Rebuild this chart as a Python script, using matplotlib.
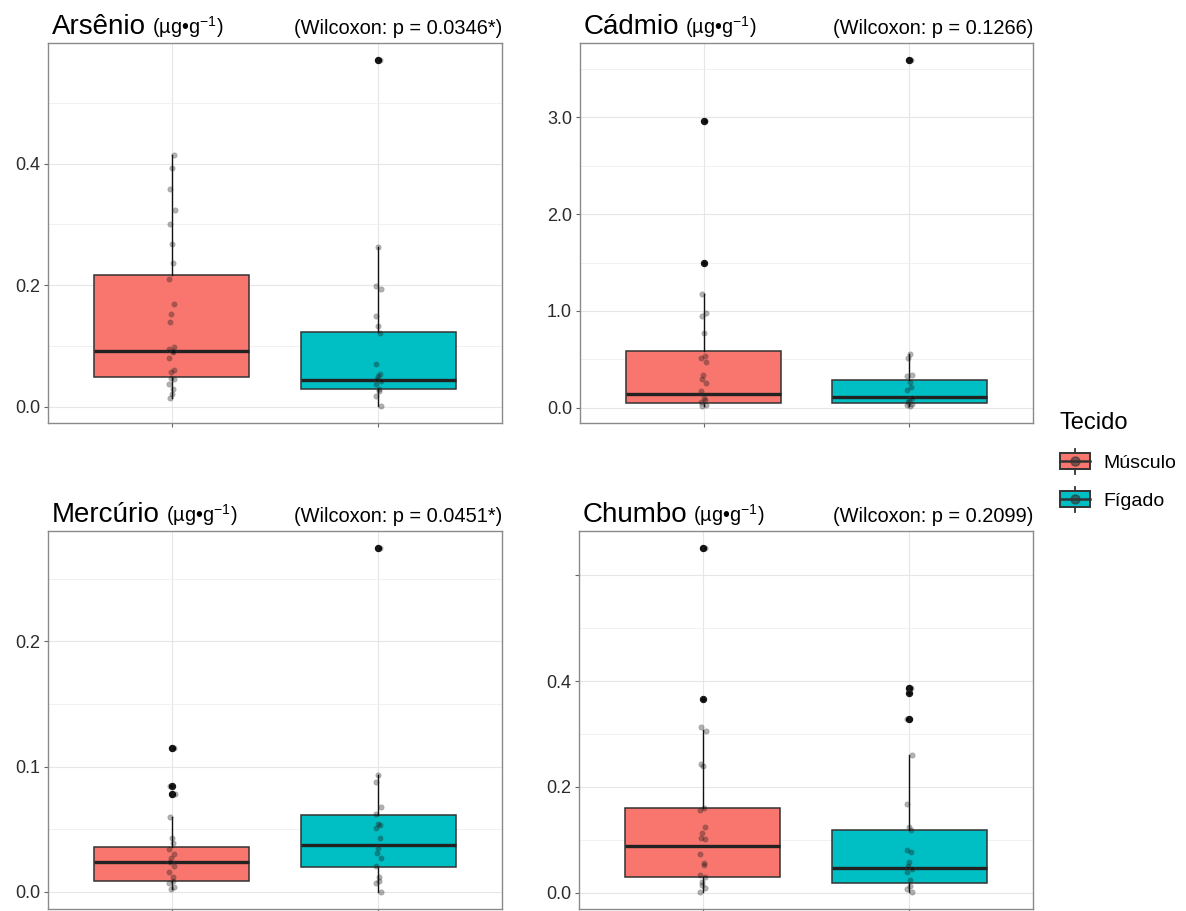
import numpy as np
import matplotlib
matplotlib.use("Agg")
import matplotlib.pyplot as plt
from matplotlib.legend_handler import HandlerBase
from matplotlib.patches import Rectangle, Patch
from matplotlib.lines import Line2D

plt.rcParams['font.family'] = ['Liberation Sans', 'DejaVu Sans']
plt.rcParams['mathtext.fontset'] = 'custom'
plt.rcParams['mathtext.rm'] = 'Liberation Sans'
plt.rcParams['mathtext.default'] = 'regular'

# data
elements = ['Arsênio', 'Cádmio', 'Mercúrio', 'Chumbo']
pvalues = ['0.0346*', '0.1266', '0.0451*', '0.2099']
tissues = ['Músculo', 'Fígado']
colors = ['#F8766D', '#00BFC4']

# box stats per element: (q1, median, q3, whislo, whishi)
musc_box = [(0.049, 0.092, 0.217, 0.015, 0.415),
            (0.05, 0.14, 0.59, 0.02, 1.17),
            (0.0088, 0.024, 0.036, 0.002, 0.060),
            (0.030, 0.089, 0.160, 0.002, 0.307)]
fig_box = [(0.029, 0.044, 0.123, 0.002, 0.263),
           (0.05, 0.11, 0.29, 0.02, 0.55),
           (0.020, 0.0374, 0.0613, 0.000, 0.093),
           (0.019, 0.047, 0.118, 0.002, 0.260)]
musc_out = [[], [2.96, 1.49], [0.1146, 0.0845, 0.078], [0.651, 0.366]]
fig_out = [[0.570], [3.59], [0.2745], [0.387, 0.377, 0.328]]

# individual observations
musc_pts = [
    [0.415, 0.393, 0.358, 0.323, 0.301, 0.268, 0.237, 0.211, 0.170, 0.153, 0.140, 0.099,
     0.095, 0.092, 0.090, 0.081, 0.061, 0.058, 0.048, 0.046, 0.037, 0.030, 0.021, 0.015],
    [2.96, 1.49, 1.17, 0.98, 0.95, 0.77, 0.53, 0.51, 0.47, 0.34, 0.30, 0.25, 0.17, 0.10,
     0.08, 0.06, 0.03, 0.02],
    [0.1146, 0.0845, 0.0845, 0.078, 0.060, 0.043, 0.039, 0.034, 0.030, 0.027, 0.024, 0.021,
     0.016, 0.012, 0.009, 0.007, 0.004, 0.002],
    [0.651, 0.366, 0.313, 0.306, 0.243, 0.240, 0.160, 0.156, 0.125, 0.113, 0.104, 0.102,
     0.073, 0.056, 0.053, 0.034, 0.030, 0.021, 0.014, 0.010, 0.002],
]
fig_pts = [
    [0.570, 0.263, 0.199, 0.194, 0.150, 0.133, 0.121, 0.071, 0.054, 0.051, 0.046, 0.042,
     0.038, 0.029, 0.026, 0.018, 0.002],
    [3.59, 0.55, 0.51, 0.34, 0.33, 0.27, 0.21, 0.18, 0.10, 0.08, 0.06, 0.04, 0.03, 0.02],
    [0.2745, 0.093, 0.088, 0.068, 0.062, 0.054, 0.053, 0.051, 0.043, 0.035, 0.031, 0.027,
     0.021, 0.012, 0.009, 0.007, 0.000],
    [0.387, 0.377, 0.328, 0.260, 0.168, 0.124, 0.118, 0.081, 0.078, 0.058, 0.050, 0.045,
     0.040, 0.025, 0.013, 0.008, 0.002],
]

yticks = [[0, 0.2, 0.4], [0, 1, 2, 3], [0, 0.1, 0.2], [0, 0.2, 0.4, 0.6]]
yticklabels = [['0.0', '0.2', '0.4'], ['0.0', '1.0', '2.0', '3.0'],
               ['0.0', '0.1', '0.2'], ['0.0', '0.2', '0.4', '']]
yminor = [[0.1, 0.3, 0.5], [0.5, 1.5, 2.5, 3.5], [0.05, 0.15, 0.25], [0.1, 0.3, 0.5]]

W, H = 1186, 911
fig = plt.figure(figsize=(W / 100, H / 100), dpi=100)
# axes boxes in pixels: left, top, right, bottom
boxes_px = [(48, 43, 502, 423), (580, 43, 1033, 423),
            (48, 531, 502, 909), (579, 531, 1033, 909)]

edge = '#333333'


def spread(n):
    # small horizontal jitter, deterministic
    return 0.013 * np.sin(np.arange(n) * 2.39 + 0.7)


axes = []
for i, (l, t, r, b) in enumerate(boxes_px):
    ax = fig.add_axes([l / W, 1 - b / H, (r - l) / W, (b - t) / H])
    axes.append(ax)
    stats = []
    for bx, out in ((musc_box[i], musc_out[i]), (fig_box[i], fig_out[i])):
        q1, med, q3, lo, hi = bx
        stats.append(dict(q1=q1, med=med, q3=q3, whislo=lo, whishi=hi, fliers=out))
    bp = ax.bxp(stats, positions=[1, 2], widths=0.75, patch_artist=True, showcaps=False,
                boxprops=dict(edgecolor=edge, linewidth=1.1),
                medianprops=dict(color='#222222', linewidth=2.4, solid_capstyle='butt'),
                whiskerprops=dict(color='#111111', linewidth=1.0),
                flierprops=dict(marker='o', markerfacecolor='#111111', markeredgecolor='#111111',
                                markersize=4.3))
    for patch, c in zip(bp['boxes'], colors):
        patch.set_facecolor(c)
    for k, pts in enumerate((musc_pts[i], fig_pts[i])):
        pts = np.array(pts)
        ax.scatter(k + 1 + spread(len(pts)), pts, s=15, color='black', alpha=0.3,
                   linewidths=0.6, edgecolors='#555555', zorder=4)

    allv = musc_pts[i] + fig_pts[i]
    lo, hi = min(allv), max(allv)
    pad = 0.05 * (hi - lo)
    ax.set_ylim(lo - pad, hi + pad)
    ax.set_xlim(0.4, 2.6)
    ax.set_xticks([1, 2])
    ax.set_xticklabels([])
    ax.set_yticks(yticks[i])
    ax.set_yticklabels(yticklabels[i])
    ax.set_yticks(yminor[i], minor=True)
    ax.tick_params(axis='both', which='major', length=2.9, width=0.8, color='#666666',
                   labelsize=13, labelcolor='#2b2b2b', pad=2.9)
    ax.tick_params(axis='y', which='minor', length=0)
    ax.grid(True, which='major', color='#e6e6e6', linewidth=0.8)
    ax.grid(True, which='minor', axis='y', color='#efefef', linewidth=0.6)
    ax.set_axisbelow(True)
    for s in ax.spines.values():
        s.set_color('#8a8a8a')
        s.set_linewidth(1.0)

    ax.text(0.008, 1.024, elements[i], transform=ax.transAxes, fontsize=20,
            ha='left', va='baseline', color='black')
    ax.text(1.0, 1.024, '(Wilcoxon: p = %s)' % pvalues[i], transform=ax.transAxes,
            fontsize=14.4, ha='right', va='baseline', color='black')

# unit text placed right after the element name
fig.canvas.draw()
renderer = fig.canvas.get_renderer()
for ax in axes:
    name = ax.texts[0]
    bb = name.get_window_extent(renderer)
    x_ax = ax.transAxes.inverted().transform((bb.x1 + 6, bb.y0))[0]
    ax.text(x_ax, 1.024, r'(µg•g$^{-1}$)', transform=ax.transAxes, fontsize=14.4,
            ha='left', va='baseline', color='black')


class BoxKey(HandlerBase):
    def create_artists(self, legend, orig_handle, xdescent, ydescent, width, height,
                       fontsize, trans):
        x0, y0 = -xdescent, -ydescent
        cx = x0 + width / 2
        cy = y0 + height / 2
        whisk = Line2D([cx, cx], [y0 - 0.125 * height, y0 + 1.125 * height], color=edge,
                       lw=1.3, transform=trans)
        box = Rectangle((x0, y0 + 0.1 * height), width, 0.8 * height,
                        facecolor=orig_handle.get_facecolor(), edgecolor=edge, lw=1.4,
                        transform=trans)
        med = Line2D([x0, x0 + width], [cy, cy], color=edge, lw=1.8, transform=trans)
        dot = Line2D([cx], [cy], marker='o', ms=6.5, color='#333333', alpha=0.6,
                     linestyle='none', transform=trans)
        return [whisk, box, med, dot]


handles = [Patch(facecolor=c) for c in colors]
leg = fig.legend(handles, tissues, title='Tecido', loc='upper left',
                 bbox_to_anchor=(1050 / W, 1 - 402 / H), frameon=False,
                 handler_map={Patch: BoxKey()}, fontsize=14, title_fontsize=17,
                 handlelength=1.55, handleheight=1.2, labelspacing=0.9,
                 handletextpad=0.7, borderpad=0, alignment='left')

fig.savefig('out.png', dpi=100)
